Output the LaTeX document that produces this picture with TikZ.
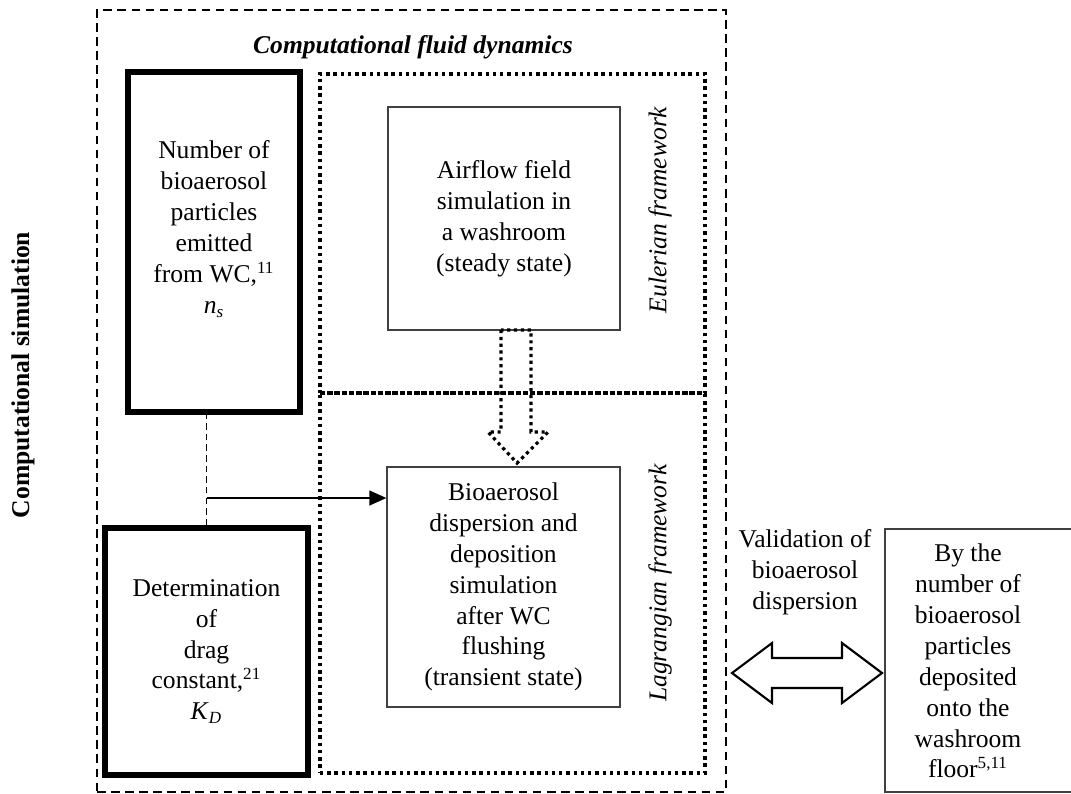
\documentclass[tikz,border=0pt]{standalone}
\usepackage{fontspec}
\setmainfont{Liberation Serif}
\usetikzlibrary{arrows.meta,fit}

\begin{document}
\begin{tikzpicture}[x=0.0165cm,y=-0.0165cm,
  txt/.style={align=center,font=\fontsize{12}{14.5}\selectfont,inner sep=0pt},
  thickbox/.style={draw,line width=2.4pt,inner sep=0pt},
  thinbox/.style={draw=black!75,line width=0.6pt,inner sep=0pt},
  dotbox/.style={draw,line width=1.6pt,dash pattern=on 1.6pt off 1.8pt,inner sep=0pt},
  dashbox/.style={draw,line width=1pt,dash pattern=on 4pt off 2.6pt,inner sep=0pt}]

  \useasboundingbox (0,0) rectangle (1071,793);

  %outer frame and titles
  \node[dashbox, fit={(97,10) (726,792)}] (cfd) {};
  \node[txt, font=\fontsize{12}{14.5}\selectfont\bfseries\itshape] (cfdtitle) at (413,47) {Computational fluid dynamics};
  \node[txt, font=\fontsize{12}{14.5}\selectfont\bfseries, rotate=90] (simtitle) at (23,375) {Computational simulation};

  %framework regions
  \node[dotbox, fit={(320,74) (705,393)}] (euler) {};
  \node[dotbox, fit={(320,393) (705,773)}] (lagrange) {};
  \node[txt, font=\fontsize{12}{14.5}\selectfont\itshape, rotate=90] (eulertxt) at (660,210) {Eulerian framework};
  \node[txt, font=\fontsize{12}{14.5}\selectfont\itshape, rotate=90] (lagrangetxt) at (660,583) {Lagrangian framework};

  %input boxes
  \node[thickbox, fit={(128,72) (300,412)}] (emit) {};
  \node[txt] (emittxt) at (214,229) {Number of\\bioaerosol\\particles\\emitted\\from WC,\textsuperscript{11}\\\textit{n}\textsubscript{\textit{s}}};
  \node[thickbox, fit={(105,528) (308,775)}] (drag) {};
  \node[txt] (dragtxt) at (drag.center) {Determination\\of\\drag\\constant,\textsuperscript{21}\\\textit{K}\textsubscript{\textit{D}}};

  %simulation boxes
  \node[thinbox, fit={(388,107) (620,330)}] (airflow) {};
  \node[txt] (airflowtxt) at (airflow.center) {Airflow field\\simulation in\\a washroom\\(steady state)};
  \node[thinbox, fit={(387,467) (620,707)}] (disp) {};
  \node[txt] (disptxt) at (disp.center) {Bioaerosol\\dispersion and\\deposition\\simulation\\after WC\\flushing\\(transient state)};

  %experiment
  \node[thinbox, fit={(885,529) (1090,792)}] (floor) {};
  \node[txt] (floortxt) at (968,661) {By the\\number of\\bioaerosol\\particles\\deposited\\onto the\\washroom\\floor\textsuperscript{5,11}};
  \node[txt] (valid) at (805,572) {Validation of\\bioaerosol\\dispersion};

  %connectors
  \draw[line width=0.5pt, dash pattern=on 3pt off 2pt] (drag.north) -- (drag.north |- emit.south);
  \coordinate (join) at (drag.north |- 0,498);
  \draw[line width=0.8pt, -{Triangle[length=8pt,width=7pt]}] (join) -- (join -| disp.west);

  %hollow arrows
  \draw[line width=1.5pt, dash pattern=on 1.5pt off 1.7pt]
    (501,330) -- (501,432) -- (488,432) -- (517,463) -- (548,432) -- (531,432) -- (531,330) -- cycle;
  \draw[line width=1pt]
    (732,673) -- (772,643) -- (772,658) -- (842,658) -- (842,643) -- (882,673)
    -- (842,703) -- (842,688) -- (772,688) -- (772,703) -- cycle;

\end{tikzpicture}
\end{document}
